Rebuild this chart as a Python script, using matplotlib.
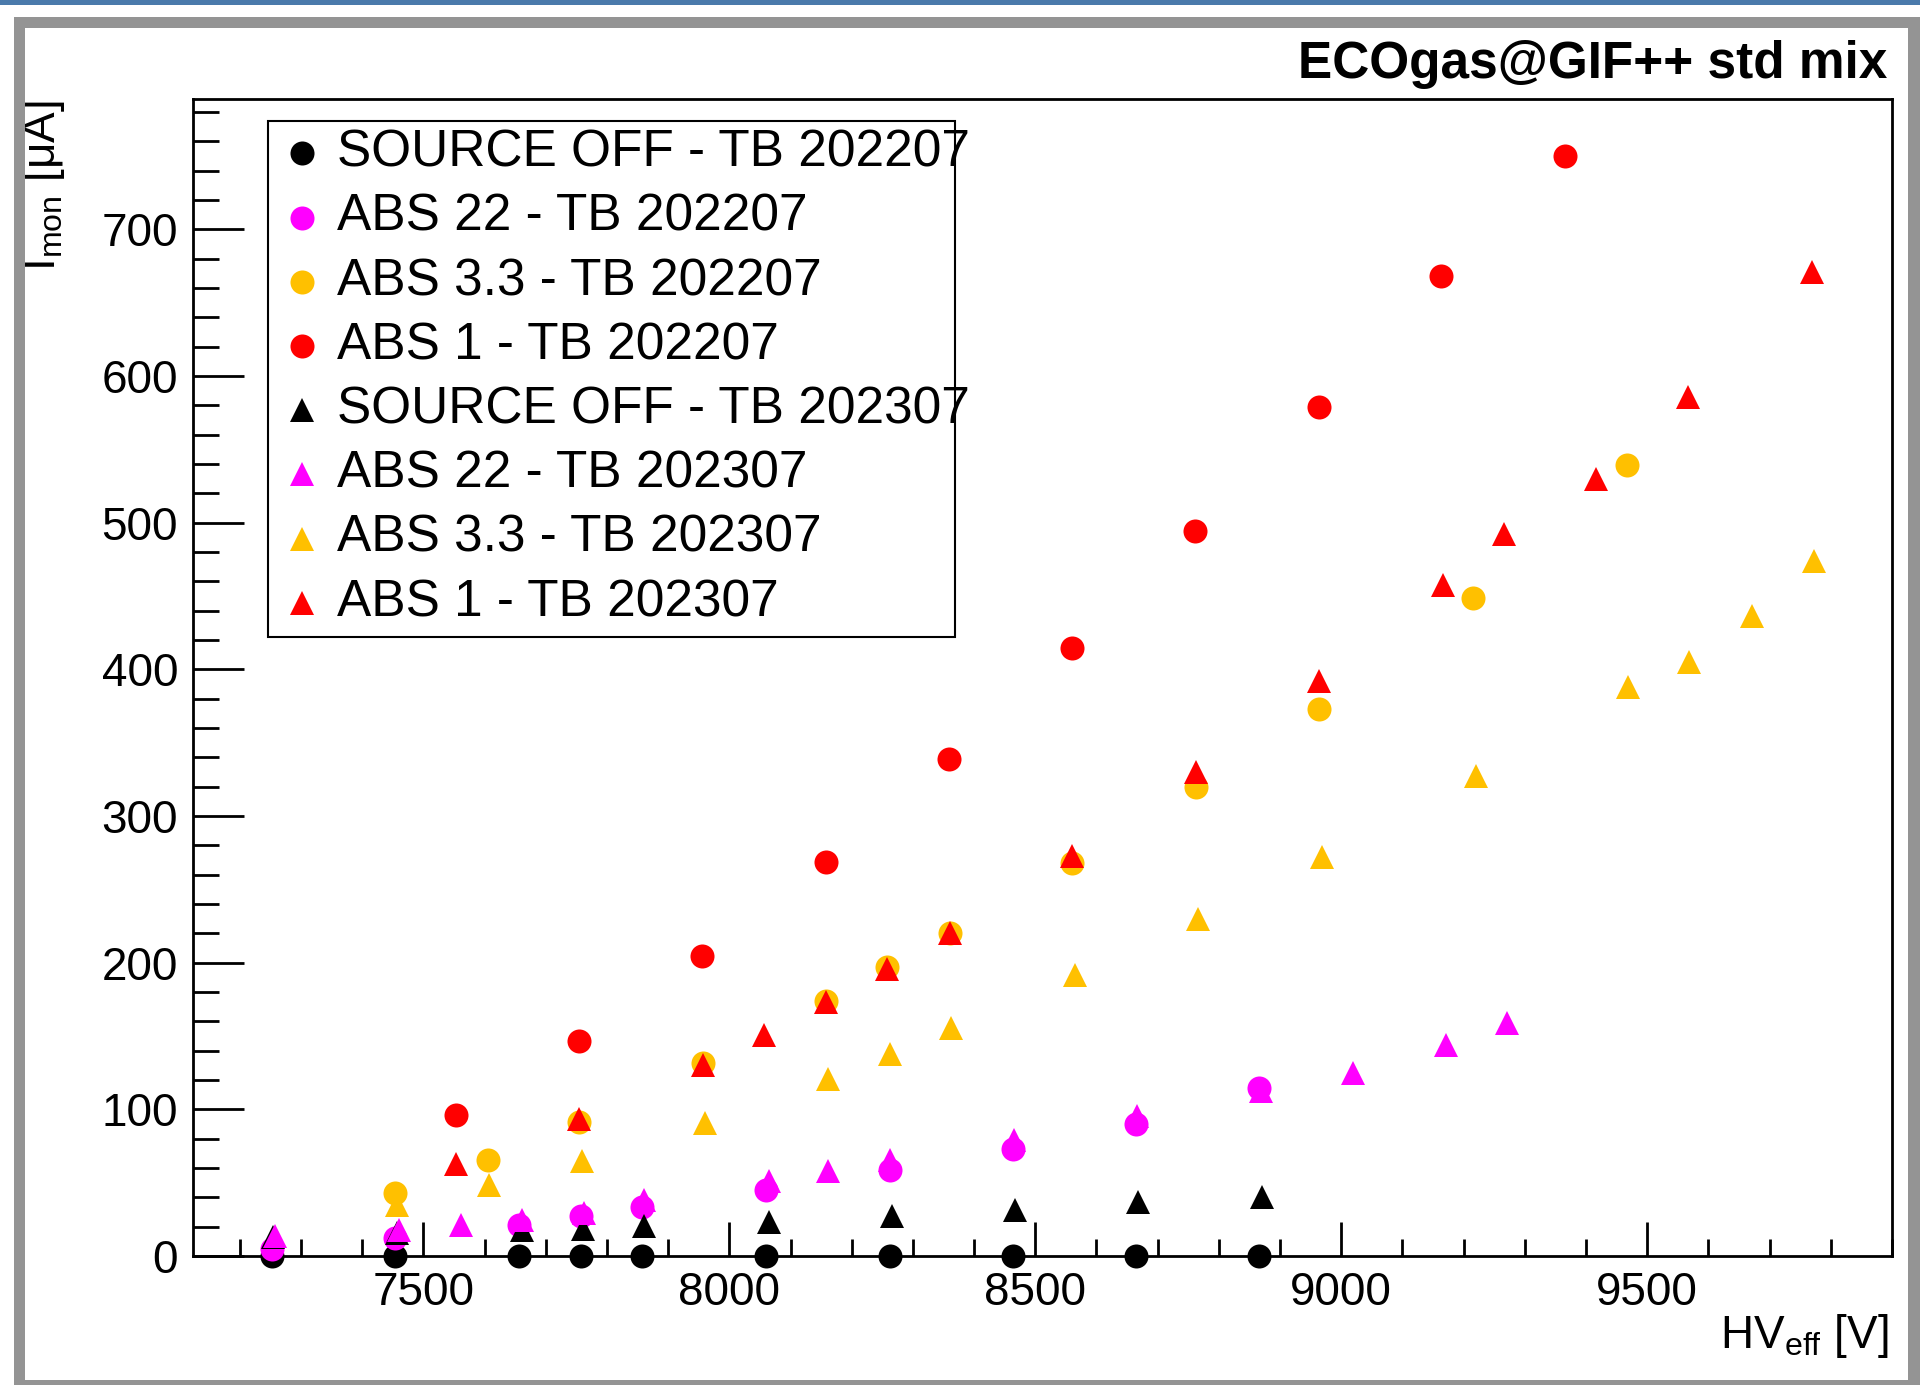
import matplotlib
matplotlib.use("Agg")
import matplotlib.pyplot as plt
from matplotlib.patches import Rectangle
from matplotlib.lines import Line2D
from matplotlib.ticker import MultipleLocator

plt.rcParams['font.family'] = ['Liberation Sans', 'DejaVu Sans']
plt.rcParams['mathtext.fontset'] = 'custom'
plt.rcParams['mathtext.rm'] = 'Liberation Sans'
plt.rcParams['mathtext.it'] = 'Liberation Sans:italic'
plt.rcParams['mathtext.bf'] = 'Liberation Sans:bold'

# ---------------- data ----------------
labels = ["SOURCE OFF - TB 202207", "ABS 22 - TB 202207", "ABS 3.3 - TB 202207",
          "ABS 1 - TB 202207", "SOURCE OFF - TB 202307", "ABS 22 - TB 202307",
          "ABS 3.3 - TB 202307", "ABS 1 - TB 202307"]

off22_hv = [7252, 7454, 7657, 7757, 7858, 8060, 8262, 8463, 8665, 8866]
off22_i = [0, 0, 0, 0, 0, 0, 0, 0, 0, 0]

abs22_22_hv = [7252, 7454, 7657, 7757, 7858, 8060, 8262, 8463, 8665, 8866]
abs22_22_i = [4.5, 12.0, 21.4, 27.0, 33.2, 45.0, 58.6, 73.1, 90.1, 114.3]

abs33_22_hv = [7454, 7605, 7755, 7957, 8158, 8258, 8360, 8560, 8762, 8964, 9215, 9467]
abs33_22_i = [42.7, 65.2, 91.6, 131.4, 174.0, 196.8, 220.2, 268.2, 319.5, 373.2, 448.6, 539.0]

abs1_22_hv = [7553, 7754, 7956, 8158, 8359, 8560, 8761, 8963, 9163, 9365]
abs1_22_i = [96.4, 146.8, 204.4, 268.8, 339.0, 414.4, 494.0, 578.7, 667.8, 749.9]

off23_hv = [7254, 7457, 7661, 7761, 7861, 8064, 8265, 8467, 8668, 8870]
off23_i = [13.0, 15.5, 17.4, 18.7, 20.2, 23.0, 27.0, 31.2, 36.6, 40.1]

abs22_23_hv = [7257, 7460, 7561, 7661, 7762, 7861, 8064, 8161, 8263, 8465, 8667, 8869, 9019, 9171, 9271]
abs22_23_i = [13.8, 17.9, 21.1, 24.8, 29.3, 38.0, 51.3, 58.1, 65.3, 79.4, 95.3, 112.6, 124.9, 144.0, 159.0]

abs33_23_hv = [7457, 7608, 7759, 7960, 8162, 8263, 8363, 8565, 8766, 8968, 9220, 9469, 9569, 9672, 9773]
abs33_23_i = [34.9, 48.4, 64.9, 90.8, 120.9, 137.9, 155.2, 191.8, 230.0, 271.8, 327.1, 388.0, 404.7, 436.1, 473.6]

abs1_23_hv = [7553, 7755, 7957, 8057, 8158, 8258, 8360, 8560, 8762, 8964, 9166, 9266, 9416, 9567, 9769]
abs1_23_i = [62.9, 93.3, 130.5, 151.0, 173.4, 195.6, 220.2, 272.9, 330.2, 392.2, 457.7, 492.5, 529.5, 585.7, 670.8]

xs = [off22_hv, abs22_22_hv, abs33_22_hv, abs1_22_hv, off23_hv, abs22_23_hv, abs33_23_hv, abs1_23_hv]
ys = [off22_i, abs22_22_i, abs33_22_i, abs1_22_i, off23_i, abs22_23_i, abs33_23_i, abs1_23_i]
colors = ["black", "#FF00FF", "#FFC000", "#FF0000"] * 2
markers = ["o"] * 4 + ["^"] * 4

xticks = [7500, 8000, 8500, 9000, 9500]
yticks = [0, 100, 200, 300, 400, 500, 600, 700]

# ---------------- figure ----------------
W, H = 1920, 1385
fig = plt.figure(figsize=(W / 100, H / 100), dpi=100)
fig.patch.set_facecolor("white")


def fx(px):
    return px / W


def fy(py):
    return 1 - py / H


# decorative frame
gray = "#949494"
for (x0, y0, x1, y1) in [(14, 17, 1920, 28), (14, 17, 24.5, 1385),
                         (1908, 17, 1920, 1385), (14, 1380, 1920, 1385)]:
    fig.patches.append(Rectangle((fx(x0), fy(y1)), fx(x1) - fx(x0), fy(y0) - fy(y1),
                                 transform=fig.transFigure, facecolor=gray,
                                 edgecolor="none", zorder=0))
fig.patches.append(Rectangle((0, fy(4.7)), 1, 4.7 / H, transform=fig.transFigure,
                             facecolor="#4A7AAB", edgecolor="none", zorder=0))

L, R, T, B = 193.3, 1892, 99.3, 1256
ax = fig.add_axes([fx(L), fy(B), fx(R) - fx(L), fy(T) - fy(B)])

for x, y, c, m in zip(xs, ys, colors, markers):
    ax.plot(x, y, ls="none", marker=m, ms=17.3, mew=0, color=c, clip_on=False, zorder=3)

ax.set_xlim(7124, 9900)
ax.set_ylim(0, 788.6)
ax.set_xticks(xticks)
ax.set_xticklabels([str(v) for v in xticks])
ax.set_yticks(yticks)
ax.set_yticklabels([str(v) for v in yticks])
ax.xaxis.set_minor_locator(MultipleLocator(100))
ax.yaxis.set_minor_locator(MultipleLocator(20))
ax.tick_params(axis="x", which="major", direction="in", length=24.7, width=2,
               labelsize=33, pad=11, top=False)
ax.tick_params(axis="x", which="minor", direction="in", length=12, width=2, top=False)
ax.tick_params(axis="y", which="major", direction="in", length=37, width=2,
               labelsize=33, pad=11, right=False)
ax.tick_params(axis="y", which="minor", direction="in", length=19, width=2, right=False)
for s in ax.spines.values():
    s.set_linewidth(2)

ax.set_xlabel(r"HV$_{\mathrm{eff}}$ [V]", fontsize=33, ha="right", va="baseline")
ax.xaxis.set_label_coords((1889 - L) / (R - L), -(1348.3 - B) / (B - T))
ax.set_ylabel(r"I$_{\mathrm{mon}}$ [μA]", fontsize=33, rotation=90, ha="right",
              va="top", rotation_mode="default")
ax.yaxis.set_label_coords((67 - L) / (R - L), (B - 100) / (B - T))

# title
fig.text(fx(1887), fy(78.3), "ECOgas@GIF++ std mix", ha="right", va="baseline",
         fontsize=37, fontweight="bold")

# legend (manual, ROOT style)
fig.add_artist(Rectangle((fx(268), fy(637)), fx(955) - fx(268), fy(120.7) - fy(637),
                         transform=fig.transFigure, facecolor="white",
                         edgecolor="black", lw=1.5, zorder=4))
for i, (lab, c, m) in enumerate(zip(labels, colors, markers)):
    row = 153.3 + 64.2 * i
    fig.add_artist(Line2D([fx(302)], [fy(row)], transform=fig.transFigure, ls="none",
                          marker=m, ms=17.3, mew=0, color=c, zorder=5))
    t = fig.text(fx(337), fy(row + 13.4), lab, ha="left", va="baseline", fontsize=37)
    t.set_zorder(6)

fig.savefig("out.png", dpi=100, facecolor="white")
